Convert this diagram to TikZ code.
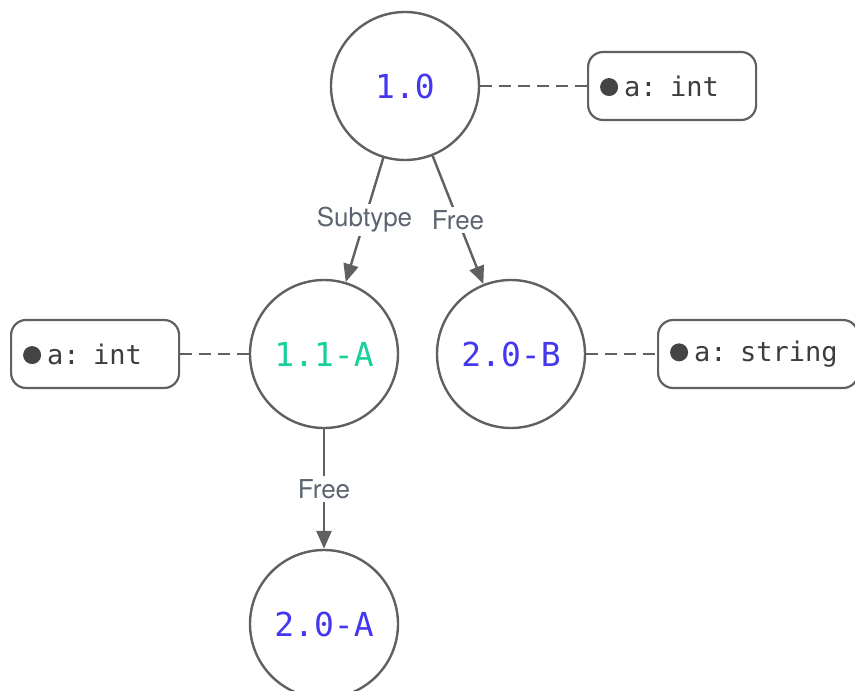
\documentclass[tikz,border=0pt]{standalone}
\usepackage{fontspec}
\setmainfont{TeX Gyre Heros}
\setsansfont{TeX Gyre Heros}
\setmonofont{DejaVu Sans Mono}
\usetikzlibrary{arrows.meta}
\definecolor{linec}{HTML}{606060}
\definecolor{lblc}{HTML}{5B6470}
\definecolor{verblue}{HTML}{4338F0}
\definecolor{vergreen}{HTML}{19CF9C}
\definecolor{boxtext}{HTML}{3D3D3D}
\definecolor{dotc}{HTML}{444444}
\newcommand\fielddot{\tikz[baseline={(0pt,-9pt)}]\fill[dotc] (0pt,0pt) circle (9pt);}
\begin{document}
\begin{tikzpicture}[x=1pt,y=-1pt,
  ver/.style={circle, draw=linec, line width=2.4pt, minimum size=148pt, inner sep=0pt,
    font=\ttfamily\fontsize{33}{40}\selectfont},
  fieldbox/.style={draw=linec, line width=2.2pt, rounded corners=15pt, minimum height=68pt,
    inner xsep=12pt, align=left, anchor=west, text=boxtext,
    font=\ttfamily\fontsize{27}{32}\selectfont},
  link/.style={draw=linec, line width=2.2pt, dash pattern=on 12pt off 7pt},
  flow/.style={draw=linec, line width=2.4pt, -{Triangle[length=18pt,width=15pt]}},
  lbl/.style={fill=white, text=lblc, inner sep=3pt, font=\sffamily\fontsize{26}{31}\selectfont}]
\useasboundingbox (0,0) rectangle (855,691);
\clip (0,0) rectangle (855,691);

% version nodes
\node[ver, text=verblue]  (v10)  at (405,86)  {1.0};
\node[ver, text=vergreen] (v11a) at (324,354) {1.1-A};
\node[ver, text=verblue]  (v20b) at (511,354) {2.0-B};
\node[ver, text=verblue]  (v20a) at (324,624) {2.0-A};

% field boxes
\node[fieldbox, text width=144pt] (f10)  at (587,86)  {\fielddot\hspace{6pt}a: int};
\node[fieldbox, text width=144pt] (f11a) at (10,354)  {\fielddot\hspace{6pt}a: int};
\node[fieldbox, text width=176pt] (f20b) at (657,354) {\fielddot\hspace{6pt}a: string};

% attachments
\draw[link] (v10) -- (f10);
\draw[link] (v11a) -- (f11a);
\draw[link] (v20b) -- (f20b);

% derivations
\draw[flow] (v10) -- node[lbl] {Subtype} (v11a);
\draw[flow] (v10) -- node[lbl] {Free} (v20b);
\draw[flow] (v11a) -- node[lbl] {Free} (v20a);
\end{tikzpicture}
\end{document}
